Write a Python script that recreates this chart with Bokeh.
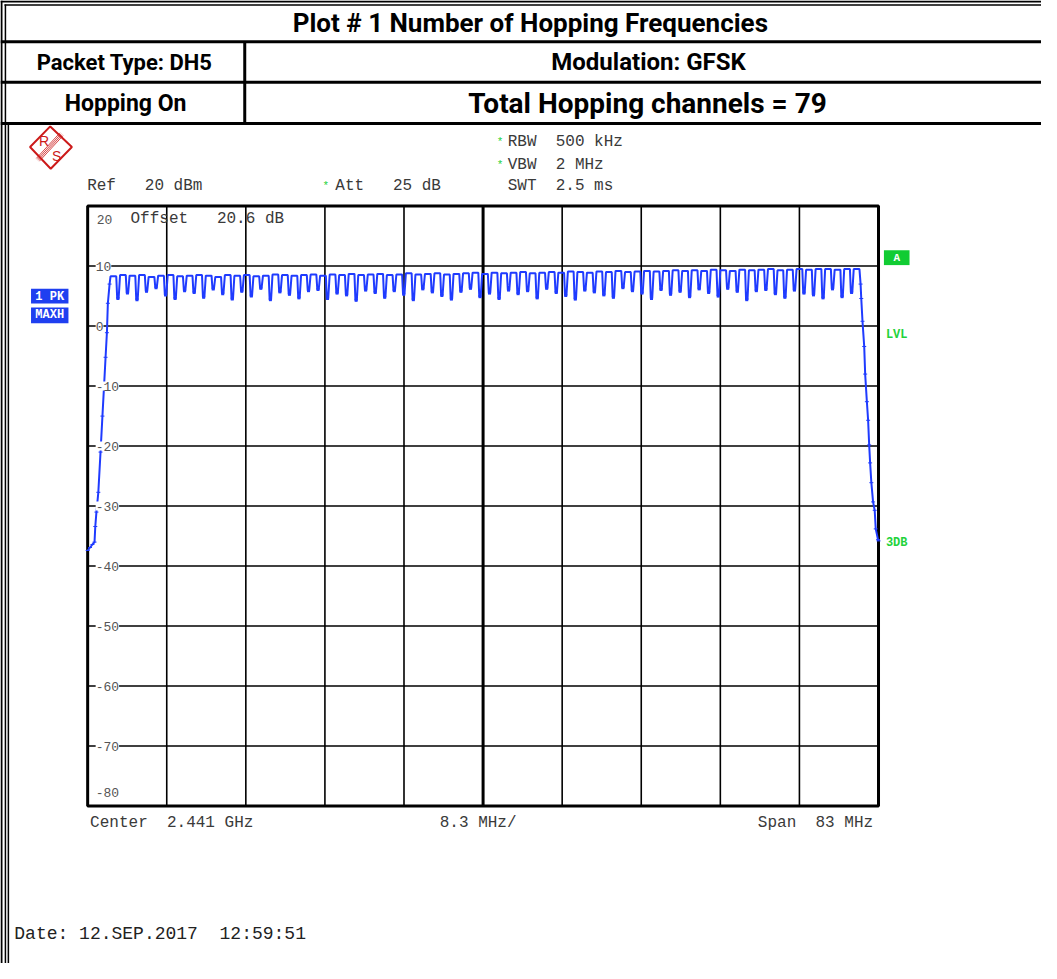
from bokeh.plotting import figure
from bokeh.models import Range1d, Label, LabelSet, ColumnDataSource
from bokeh.embed import file_html
from bokeh.resources import INLINE
from bokeh.core.properties import value

# ---------------- data ----------------
CENTER_MHZ = 2441.0
SPAN_MHZ = 83.0
REF_DBM = 20
DB_PER_DIV = 10

db_ticks = [20, 10, 0, -10, -20, -30, -40, -50, -60, -70, -80]
db_tick_labels = ["20", "10", "0", "-10", "-20", "-30", "-40", "-50", "-60", "-70", "-80"]

channel_mhz = list(range(2402, 2481))          # 79 hopping channels
channel_peak_dbm = [
    8.3, 8.5, 8.4, 8.5, 8.2, 8.4, 8.5, 8.3, 8.4, 8.5,
    8.4, 8.2, 8.5, 8.4, 8.5, 8.3, 8.4, 8.6, 8.5, 8.4,
    8.5, 8.6, 8.4, 8.6, 8.5, 8.7, 8.5, 8.6, 8.7, 8.5,
    8.6, 8.8, 8.6, 8.7, 8.8, 8.6, 8.7, 8.8, 8.9, 8.7,
    8.9, 8.8, 8.9, 9.0, 8.8, 8.9, 9.0, 8.9, 9.1, 9.0,
    8.9, 9.1, 9.0, 9.2, 9.0, 9.1, 9.2, 9.1, 9.2, 9.3,
    9.2, 9.3, 9.2, 9.4, 9.3, 9.2, 9.4, 9.3, 9.4, 9.5,
    9.3, 9.4, 9.5, 9.4, 9.5, 9.5, 9.4, 9.5, 9.5]
gap_dip_dbm = [
    4.6, 5.5, 4.4, 5.8, 6.4, 5.2, 4.6, 5.9, 5.6, 4.8,
    6.2, 5.4, 4.5, 5.8, 5.0, 6.3, 4.4, 5.7, 5.3, 4.7,
    5.9, 6.1, 4.6, 5.5, 5.2, 4.3, 6.0, 5.6, 4.8, 5.9,
    5.3, 4.4, 6.2, 5.7, 5.1, 4.5, 5.8, 6.3, 4.9, 5.5,
    4.6, 6.0, 5.4, 5.9, 4.7, 6.3, 5.6, 5.1, 4.5, 6.0,
    5.7, 5.2, 4.8, 6.4, 5.9, 5.5, 4.6, 6.1, 5.3, 5.8,
    4.9, 6.2, 5.6, 5.0, 6.3, 5.8, 4.4, 5.9, 6.1, 5.4,
    4.8, 6.0, 5.5, 5.2, 4.7, 6.2, 4.9, 5.6]
left_skirt_mhz = [2399.5, 2399.75, 2400.0, 2400.22, 2400.3, 2400.42, 2400.62,
                  2400.85, 2401.05, 2401.22, 2401.38, 2401.52, 2401.62, 2401.8]
left_skirt_dbm = [-37.4, -36.9, -36.4, -36.0, -33.4, -31.0, -27.7,
                  -21.0, -15.0, -10.0, -5.2, -1.1, 3.8, 7.0]
right_skirt_mhz = [2480.62, 2480.69, 2480.82, 2481.00, 2481.10, 2481.28, 2481.41,
                   2481.52, 2481.62, 2481.75, 2481.93, 2482.10, 2482.21, 2482.45, 2482.5]
right_skirt_dbm = [7.0, 4.6, 0.8, -3.4, -8.0, -12.6, -15.7,
                   -19.8, -22.8, -26.1, -29.3, -30.7, -33.8, -35.6, -35.8]

# ---------------- geometry (reference page pixels, scaled into the canvas) ----------------
W, H = 1041, 963
REF_W, REF_H = 1057, 979
GRID_L, GRID_R = 88.5, 891.5
GRID_T, GRID_B = 209.0, 819.0

f_start = CENTER_MHZ - SPAN_MHZ / 2
f_stop = CENTER_MHZ + SPAN_MHZ / 2
db_top = REF_DBM
db_bot = REF_DBM - 10 * DB_PER_DIV

mhz_per_px = SPAN_MHZ / (GRID_R - GRID_L)
x0 = f_start - GRID_L * mhz_per_px
x1 = x0 + REF_W * mhz_per_px
db_per_px = (db_top - db_bot) / (GRID_B - GRID_T)
y_top = db_top + GRID_T * db_per_px
y_bot = y_top - REF_H * db_per_px


def X(px):
    return x0 + px * mhz_per_px


def Y(py):
    return y_top - py * db_per_px


p = figure(width=W, height=H, x_range=Range1d(x0, x1), y_range=Range1d(y_bot, y_top),
           x_axis_type=None, y_axis_type=None, toolbar_location=None,
           output_backend="svg", min_border=0, outline_line_color=None)
p.min_border_left = p.min_border_right = p.min_border_top = p.min_border_bottom = 0
p.background_fill_color = "white"
p.border_fill_color = "white"

HEAD = "Roboto"
MONO = "Liberation Mono"
TXT = "#3a3a3a"
GREEN = "#22d23a"
BLUE_BOX = "#1f3ff0"
TRACE = "#1f3bff"
NB = "\u00a0"


def add_text(px, py, text, size, color=TXT, font=MONO, align="left", bold=False):
    p.add_layout(Label(x=X(px), y=Y(py), text=text, text_font=font,
                       text_font_size=f"{size}px", text_color=color,
                       text_align=align, text_baseline="middle",
                       text_font_style="bold" if bold else "normal"))


# ---------------- header table / page frame ----------------
p.segment(x0=[X(0)] * 3, x1=[X(REF_W)] * 3, y0=[Y(42), Y(83), Y(125)], y1=[Y(42), Y(83), Y(125)],
          line_color="black", line_width=3)
p.segment(x0=[X(0), X(4)], x1=[X(REF_W), X(REF_W)], y0=[Y(1), Y(4.5)], y1=[Y(1), Y(4.5)],
          line_color="black", line_width=[2, 1.5])
p.segment(x0=[X(1), X(5), X(8)], x1=[X(1), X(5), X(8)], y0=[Y(0), Y(4), Y(126)],
          y1=[Y(REF_H), Y(REF_H), Y(REF_H)], line_color="black", line_width=[2, 1.5, 1.5])
p.segment(x0=[X(248)], x1=[X(248)], y0=[Y(42)], y1=[Y(125)], line_color="black", line_width=3)

add_text(538, 23, "Plot # 1 Number of Hopping Frequencies", 26, "black", HEAD, "center", True)
add_text(126, 63, "Packet Type: DH5", 22, "black", HEAD, "center", True)
add_text(658, 63, "Modulation: GFSK", 24, "black", HEAD, "center", True)
add_text(127, 105, "Hopping On", 23, "black", HEAD, "center", True)
add_text(657, 105, "Total Hopping channels = 79", 28, "black", HEAD, "center", True)

# ---------------- R&S logo ----------------
RED = "#cc1a1a"
p.patch([X(30), X(50.5), X(72.5), X(51)], [Y(149), Y(128), Y(149), Y(171)],
        fill_color=None, line_color=RED, line_width=2)
for d in (-2.2, -0.8, 0.6, 2.0):
    p.segment(x0=[X(62 + d * 0.74)], y0=[Y(136 + d * 0.68)], x1=[X(38 + d * 0.74)], y1=[Y(162 + d * 0.68)],
              line_color=RED, line_width=0.8)
add_text(39, 143, "R", 14, RED, "Liberation Sans")
add_text(57, 158, "S", 14, RED, "Liberation Sans", "center")

# ---------------- instrument settings text ----------------
add_text(504, 144, "*", 11, GREEN)
add_text(515, 144, f"RBW {NB}500 kHz", 16)
add_text(504, 167, "*", 11, GREEN)
add_text(515, 167, f"VBW {NB}2 MHz", 16)
add_text(515, 189, f"SWT {NB}2.5 ms", 16)
add_text(88, 189, f"Ref {NB}{NB}20 dBm", 16)
add_text(327, 189, "*", 11, GREEN)
add_text(340, 189, f"Att {NB}{NB}25 dB", 16)
add_text(132, 222, f"Offset {NB}{NB}20.6 dB", 16)

# ---------------- grid ----------------
div_f = [f_start + k * SPAN_MHZ / 10 for k in range(1, 10)]
p.segment(x0=div_f, x1=div_f, y0=[db_bot] * 9, y1=[db_top] * 9, line_color="black",
          line_width=[1.6, 1.6, 1.6, 1.6, 3, 1.6, 1.6, 1.6, 1.6])
inner_db = db_ticks[1:-1]
p.segment(x0=[f_start] * len(inner_db), x1=[f_stop] * len(inner_db), y0=inner_db, y1=inner_db,
          line_color="black", line_width=1.5)
p.quad(left=[f_start], right=[f_stop], bottom=[db_bot], top=[db_top],
       fill_color=None, line_color="black", line_width=3)

tick_src = ColumnDataSource(dict(x=[f_start] * len(inner_db), y=inner_db, t=db_tick_labels[1:-1]))
p.add_layout(LabelSet(x="x", y="y", text="t", source=tick_src, x_offset=8,
                      text_font=value(MONO), text_font_size="13px", text_color="#555555",
                      text_baseline="middle", text_align="left",
                      background_fill_color="white"))
p.add_layout(Label(x=f_start, y=db_top, text=db_tick_labels[0], x_offset=9, y_offset=-13,
                   text_font=MONO, text_font_size="13px", text_color="#555555",
                   text_baseline="middle"))
p.add_layout(Label(x=f_start, y=db_bot, text=db_tick_labels[-1], x_offset=8, y_offset=14,
                   text_font=MONO, text_font_size="13px", text_color="#555555",
                   text_baseline="middle"))

# ---------------- trace ----------------
xs = list(left_skirt_mhz)
ys = list(left_skirt_dbm)
dip_x = []
for i, f in enumerate(channel_mhz):
    xs += [f - 0.1, f + 0.5]
    ys += [channel_peak_dbm[i], channel_peak_dbm[i]]
    if i < len(gap_dip_dbm):
        xs += [f + 0.6, f + 0.75]
        ys += [gap_dip_dbm[i], gap_dip_dbm[i]]
        dip_x.append(f + 0.675)
xs += right_skirt_mhz
ys += right_skirt_dbm
p.line(xs, ys, line_color=TRACE, line_width=2)
p.scatter(left_skirt_mhz + right_skirt_mhz, left_skirt_dbm + right_skirt_dbm,
          marker="dash", size=4, line_color=TRACE, line_width=1)
p.scatter(dip_x, gap_dip_dbm, marker="square", size=3, fill_color=TRACE, line_color=None)

# ---------------- side markers ----------------
p.quad(left=[X(897)], right=[X(923)], top=[Y(254)], bottom=[Y(269)], fill_color="#11cc33", line_color=None)
add_text(910, 262, "A", 11, "white", MONO, "center", True)
add_text(899, 340, "LVL", 12, GREEN, MONO, "left", True)
add_text(899, 552, "3DB", 12, GREEN, MONO, "left", True)

p.quad(left=[X(31), X(31)], right=[X(69), X(69)], top=[Y(293), Y(312)], bottom=[Y(308), Y(328)],
       fill_color=BLUE_BOX, line_color=None)
add_text(50, 301, "1 PK", 12, "white", MONO, "center", True)
add_text(50, 320, "MAXH", 12, "white", MONO, "center", True)

# ---------------- footer text ----------------
add_text(91, 836, f"Center {NB}2.441 GHz", 16)
add_text(446, 836, "8.3 MHz/", 16)
add_text(886, 836, f"Span {NB}83 MHz", 16, align="right")
add_text(14, 949, f"Date: 12.SEP.2017 {NB}12:59:51", 18, "#222222")

open("out.html", "w").write(file_html(p, INLINE))
